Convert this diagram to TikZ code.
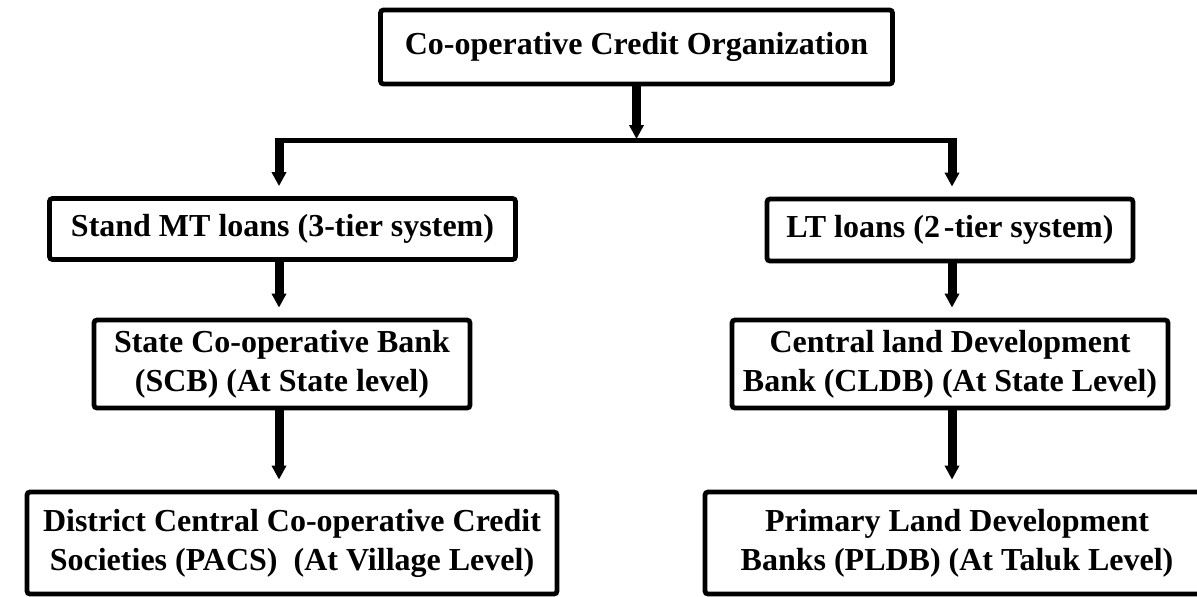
\documentclass[tikz,border=0pt]{standalone}
\usepackage{fontspec}
\setmainfont{Liberation Serif}
\usetikzlibrary{arrows.meta}
\begin{document}
\begin{tikzpicture}[x=0.5pt,y=-0.5pt,
  box/.style={draw, line width=2.4pt, rounded corners=1.5pt, align=center, inner sep=0pt,
    font=\fontsize{16}{19.5}\selectfont\bfseries},
  arr/.style={line width=4.5pt, -{Triangle[width=7pt,length=7pt]}, shorten >=5pt},
  toparr/.style={line width=4.5pt, -{Triangle[width=7pt,length=7pt]}, shorten >=0.5pt},
  bar/.style={line width=2.5pt}]
\useasboundingbox (0,0) rectangle (1197,596);
\clip (0,0) rectangle (1197,596);
\fill[white] (0,0) rectangle (1197,596);
% boxes
\node[box, minimum width=256pt, minimum height=37pt] (top) at (636.5,47) {Co-operative Credit Organization};
\node[box, minimum width=233pt, minimum height=30.5pt] (sl) at (282.5,229) {Stand MT loans (3-tier system)};
\node[box, minimum width=183pt, minimum height=31pt] (lt) at (950,230) {LT loans (2\kern0.12em-tier system)};
\node[box, minimum width=188pt, minimum height=44pt] (scb) at (282,364) {State Co-operative Bank\\(SCB) (At State level)};
\node[box, minimum width=218pt, minimum height=44pt] (cldb) at (950,364) {Central land Development\\Bank (CLDB) (At State Level)};
\node[box, minimum width=265pt, minimum height=51pt] (pacs) at (292,543) {District Central Co-operative Credit\\Societies (PACS)\ \ (At Village Level)};
\node[box, minimum width=252pt, minimum height=51pt] (pldb) at (957,543) {Primary Land Development\\Banks (PLDB) (At Taluk Level)};
% connectors
\coordinate (jl) at (279,140);
\coordinate (jr) at (952,140);
\draw[bar] (jl) -- (jr);
\draw[toparr] (top.south) -- (top.south |- jl);
\draw[arr, shorten <=-1.25pt] (jl) -- (sl.north -| jl);
\draw[arr, shorten <=-1.25pt] (jr) -- (lt.north -| jr);
\draw[arr] (sl.south -| jl) -- (scb.north -| jl);
\draw[arr] (lt.south -| jr) -- (cldb.north -| jr);
\draw[arr] (scb.south -| jl) -- (pacs.north -| jl);
\draw[arr] (cldb.south -| jr) -- (pldb.north -| jr);
\end{tikzpicture}
\end{document}
